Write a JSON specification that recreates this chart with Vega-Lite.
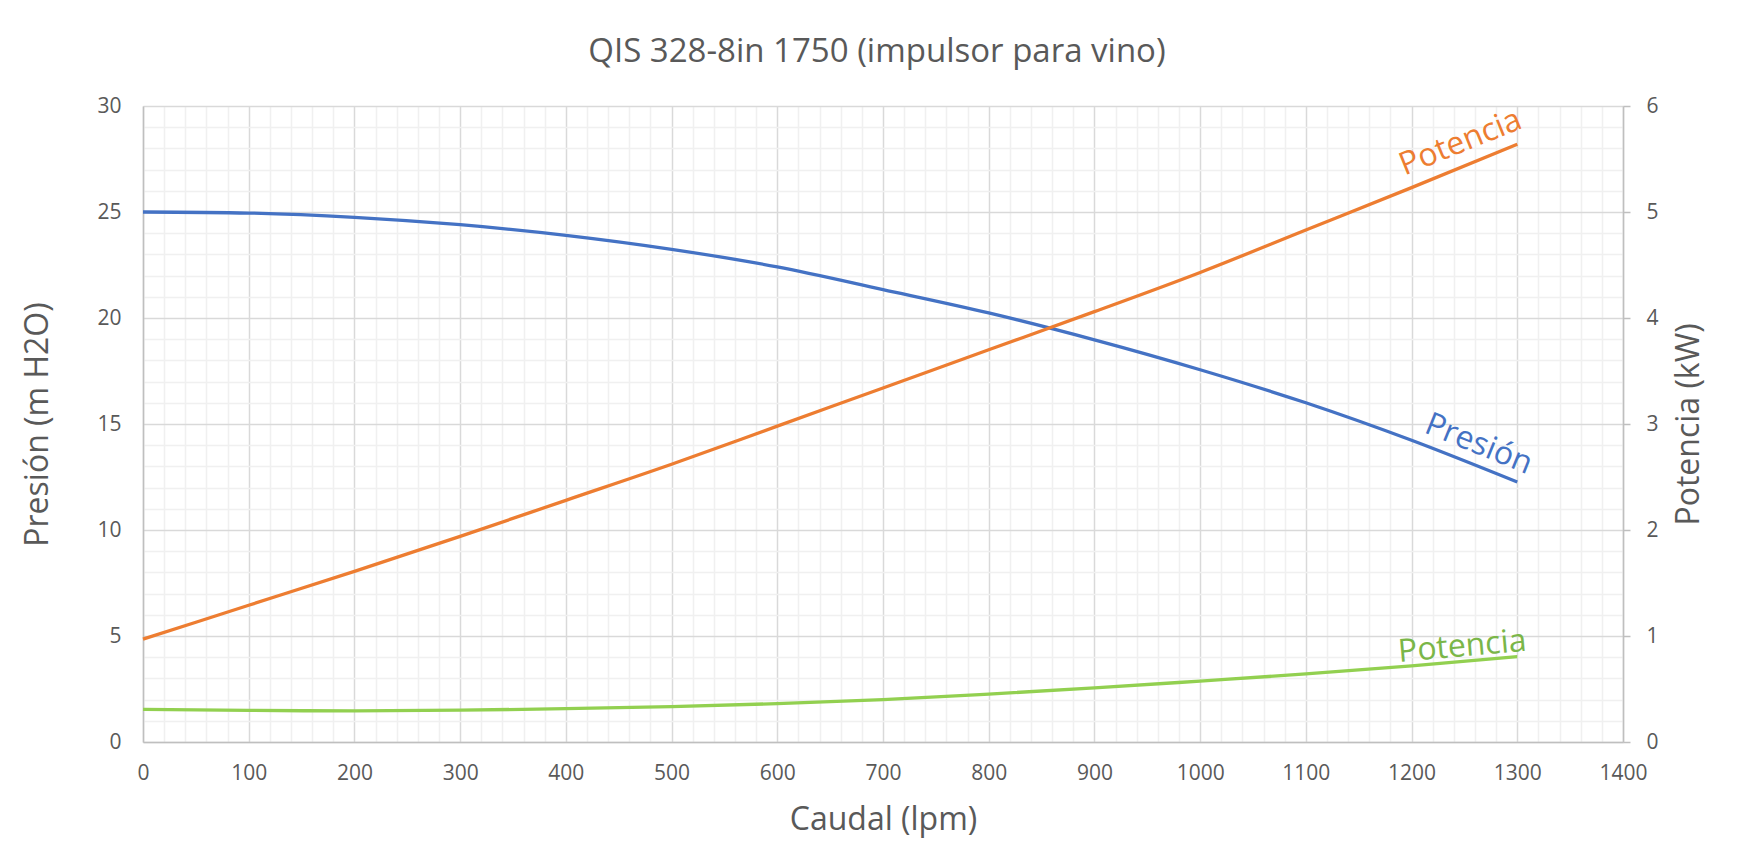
{
  "$schema": "https://vega.github.io/schema/vega-lite/v6.json",
  "width": 1480,
  "height": 636,
  "autosize": {"type": "none"},
  "padding": {"left": 143, "top": 106, "right": 117, "bottom": 125},
  "background": "white",
  "config": {
    "font": "Open Sans",
    "view": {"stroke": null},
    "axis": {"labelColor": "#595959", "titleColor": "#595959", "titleFontWeight": "normal", "labelFontSize": 21, "titleFontSize": 32, "gridWidth": 1.5, "domainWidth": 1.5, "tickWidth": 1.5}
  },
  "title": {"text": "QIS 328-8in 1750 (impulsor para vino)", "fontSize": 33, "fontWeight": "normal", "color": "#595959", "offset": 26, "anchor": "middle", "dx": -6},
  "data": {"values": [
    {"caudal": 0, "presion": 25.0, "potencia": 0.97, "potencia2": 0.308},
    {"caudal": 100, "presion": 24.95, "potencia": 1.29, "potencia2": 0.298},
    {"caudal": 200, "presion": 24.75, "potencia": 1.61, "potencia2": 0.294},
    {"caudal": 300, "presion": 24.4, "potencia": 1.94, "potencia2": 0.3},
    {"caudal": 400, "presion": 23.9, "potencia": 2.28, "potencia2": 0.314},
    {"caudal": 500, "presion": 23.24, "potencia": 2.62, "potencia2": 0.334},
    {"caudal": 600, "presion": 22.41, "potencia": 2.98, "potencia2": 0.362},
    {"caudal": 700, "presion": 21.34, "potencia": 3.34, "potencia2": 0.4},
    {"caudal": 800, "presion": 20.24, "potencia": 3.7, "potencia2": 0.452},
    {"caudal": 900, "presion": 18.97, "potencia": 4.06, "potencia2": 0.51},
    {"caudal": 1000, "presion": 17.56, "potencia": 4.43, "potencia2": 0.575},
    {"caudal": 1100, "presion": 16.0, "potencia": 4.83, "potencia2": 0.642},
    {"caudal": 1200, "presion": 14.23, "potencia": 5.23, "potencia2": 0.718},
    {"caudal": 1300, "presion": 12.26, "potencia": 5.64, "potencia2": 0.806}
  ]},
  "layer": [
    {
      "mark": {"type": "line", "opacity": 0},
      "encoding": {
        "x": {"field": "caudal", "type": "quantitative", "scale": {"domain": [0, 1400], "nice": false},
          "axis": {"orient": "top", "values": [20,40,60,80,120,140,160,180,220,240,260,280,320,340,360,380,420,440,460,480,520,540,560,580,620,640,660,680,720,740,760,780,820,840,860,880,920,940,960,980,1020,1040,1060,1080,1120,1140,1160,1180,1220,1240,1260,1280,1320,1340,1360,1380],
            "grid": true, "gridColor": "#f0f0f0", "labels": false, "ticks": false, "domain": false, "title": null}},
        "y": {"field": "presion", "type": "quantitative", "scale": {"domain": [0, 30], "nice": false},
          "axis": {"orient": "left", "values": [1,2,3,4,6,7,8,9,11,12,13,14,16,17,18,19,21,22,23,24,26,27,28,29],
            "grid": true, "gridColor": "#f0f0f0", "labels": false, "ticks": false, "domain": false, "title": null}}
      }
    },
    {
      "mark": {"type": "line", "color": "#4472C4", "strokeWidth": 3.3, "interpolate": "monotone"},
      "encoding": {
        "x": {"field": "caudal", "type": "quantitative", "scale": {"domain": [0, 1400], "nice": false},
          "axis": {"orient": "bottom", "values": [0,100,200,300,400,500,600,700,800,900,1000,1100,1200,1300,1400], "format": "d", "labelFlush": false,
            "grid": true, "gridColor": "#d9d9d9", "domain": true, "domainColor": "#bfbfbf", "ticks": false, "labelPadding": 20, "title": "Caudal (lpm)", "titlePadding": 21}},
        "y": {"field": "presion", "type": "quantitative", "scale": {"domain": [0, 30], "nice": false},
          "axis": {"orient": "left", "values": [0,5,10,15,20,25,30], "labelFlush": false,
            "grid": true, "gridColor": "#d9d9d9", "domain": true, "domainColor": "#bfbfbf", "ticks": false, "labelPadding": 22, "title": "Presión (m H2O)", "titlePadding": 42}}
      }
    },
    {
      "mark": {"type": "line", "color": "#ED7D31", "strokeWidth": 3.3, "interpolate": "monotone"},
      "encoding": {
        "x": {"field": "caudal", "type": "quantitative", "scale": {"domain": [0, 1400], "nice": false}, "axis": null},
        "y": {"field": "potencia", "type": "quantitative", "scale": {"domain": [0, 6], "nice": false},
          "axis": {"orient": "right", "values": [0,1,2,3,4,5,6], "labelFlush": false, "grid": false, "domain": true, "domainColor": "#bfbfbf", "ticks": true, "tickSize": 7, "tickColor": "#bfbfbf", "labelPadding": 16, "title": "Potencia (kW)", "titleAngle": 270, "titleBaseline": "top", "titlePadding": 15}}
      }
    },
    {
      "mark": {"type": "line", "color": "#92D050", "strokeWidth": 3.3, "interpolate": "monotone"},
      "encoding": {
        "x": {"field": "caudal", "type": "quantitative", "scale": {"domain": [0, 1400], "nice": false}, "axis": null},
        "y": {"field": "potencia2", "type": "quantitative", "scale": {"domain": [0, 6], "nice": false}, "axis": null}
      }
    },
    {
      "transform": [{"filter": "datum.caudal == 1300"}],
      "mark": {"type": "text", "text": "Potencia", "color": "#ED7D31", "fontSize": 32, "angle": -22, "align": "center", "baseline": "middle", "dx": -52, "dy": -23},
      "encoding": {
        "x": {"field": "caudal", "type": "quantitative", "scale": {"domain": [0, 1400], "nice": false}, "axis": null},
        "y": {"field": "potencia", "type": "quantitative", "scale": {"domain": [0, 6], "nice": false}, "axis": null}
      }
    },
    {
      "transform": [{"filter": "datum.caudal == 1300"}],
      "mark": {"type": "text", "text": "Presión", "color": "#4472C4", "fontSize": 32, "angle": 22, "align": "center", "baseline": "middle", "dx": -50, "dy": -21},
      "encoding": {
        "x": {"field": "caudal", "type": "quantitative", "scale": {"domain": [0, 1400], "nice": false}, "axis": null},
        "y": {"field": "presion", "type": "quantitative", "scale": {"domain": [0, 30], "nice": false}, "axis": null}
      }
    },
    {
      "transform": [{"filter": "datum.caudal == 1300"}],
      "mark": {"type": "text", "text": "Potencia", "color": "#7AB648", "fontSize": 32, "angle": -5, "align": "center", "baseline": "middle", "dx": -54, "dy": -15},
      "encoding": {
        "x": {"field": "caudal", "type": "quantitative", "scale": {"domain": [0, 1400], "nice": false}, "axis": null},
        "y": {"field": "potencia2", "type": "quantitative", "scale": {"domain": [0, 6], "nice": false}, "axis": null}
      }
    }
  ],
  "resolve": {"scale": {"y": "independent"}}
}
